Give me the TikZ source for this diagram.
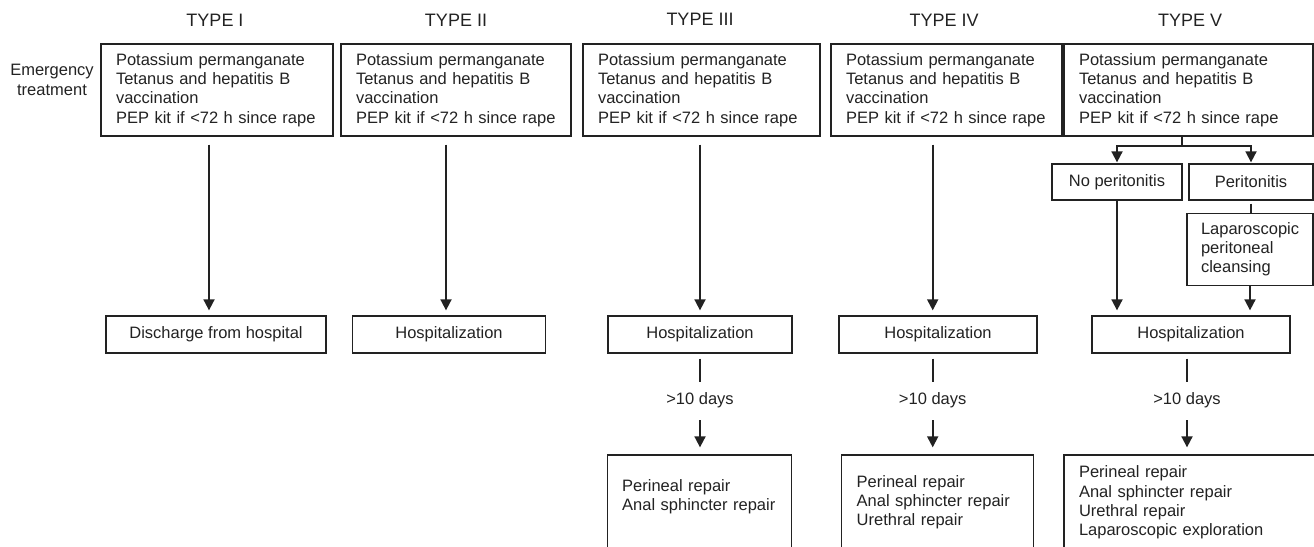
\documentclass[tikz,border=0pt]{standalone}
\usepackage{fontspec}
\setmainfont{Liberation Sans}
\usetikzlibrary{arrows.meta}
\definecolor{ink}{HTML}{222222}
\begin{document}
\begin{tikzpicture}[x=1pt,y=-1pt,
  every node/.style={text=ink, font=\fontsize{16.5}{19.2}\selectfont},
  box/.style={draw=ink, line width=1.3pt, inner sep=0pt},
  lbox/.style={box, align=left, inner xsep=15pt, text width=#1},
  cbox/.style={box, align=center, minimum width=#1},
  title/.style={font=\fontsize{18}{21}\selectfont},
  arr/.style={draw=ink, line width=1.8pt, -{Triangle[length=11pt,width=11pt]}},
  ln/.style={draw=ink, line width=1.8pt},
  days/.style={minimum height=36pt, inner sep=0pt},
]
\useasboundingbox (0,0) rectangle (1314,546);
\clip (0,0) rectangle (1314,546);

% titles
\node[title] (ty1) at (215,20) {TYPE I};
\node[title] (ty2) at (456,20) {TYPE II};
\node[title] (ty3) at (700,19) {TYPE III};
\node[title] (ty4) at (944,20) {TYPE IV};
\node[title] (ty5) at (1190,20) {TYPE V};

\node[align=center] (em) at (52,80) {Emergency\\treatment};

% emergency treatment boxes
\node[lbox=202pt, minimum height=92pt] (t1) at (217,90) {Potassium permanganate\\Tetanus and hepatitis B\\vaccination\\PEP kit if <72 h since rape};
\node[lbox=200pt, minimum height=92pt] (t2) at (456,90) {Potassium permanganate\\Tetanus and hepatitis B\\vaccination\\PEP kit if <72 h since rape};
\node[lbox=207pt, minimum height=92pt] (t3) at (701.5,90) {Potassium permanganate\\Tetanus and hepatitis B\\vaccination\\PEP kit if <72 h since rape};
\node[lbox=201pt, minimum height=92pt] (t4) at (946.5,90) {Potassium permanganate\\Tetanus and hepatitis B\\vaccination\\PEP kit if <72 h since rape};
\node[lbox=219pt, minimum height=92pt] (t5) at (1188.5,90) {Potassium permanganate\\Tetanus and hepatitis B\\vaccination\\PEP kit if <72 h since rape};

% hospital row
\node[cbox=220pt, minimum height=37pt] (h1) at (216,334.5) {Discharge from hospital};
\node[cbox=193pt, minimum height=37pt] (h2) at (449,334.5) {Hospitalization};
\node[cbox=184pt, minimum height=37pt] (h3) at (700,334.5) {Hospitalization};
\node[cbox=198pt, minimum height=37pt] (h4) at (938,334.5) {Hospitalization};
\node[cbox=198pt, minimum height=37pt] (h5) at (1191,334.5) {Hospitalization};

% type V branch
\node[cbox=130pt, minimum height=36pt] (np) at (1117,182) {No peritonitis};
\node[cbox=124pt, minimum height=36pt] (pe) at (1251,182) {Peritonitis};
\node[lbox=98pt, inner xsep=14pt, minimum height=72pt] (lap) at (1250,249.5) {Laparoscopic\\peritoneal\\cleansing};

% days labels
\node[days] (d3) at (700,400) {>10 days};
\node[days] (d4) at (932.7,400) {>10 days};
\node[days] (d5) at (1187,400) {>10 days};

% bottom boxes
\node[lbox=155pt, inner xsep=14.5pt, minimum height=95pt] (b3) at (699.7,502.5) {\raisebox{5pt}[\height][\depth]{\begin{tabular}{@{}l@{}}Perineal repair\\Anal sphincter repair\end{tabular}}};
\node[lbox=161.6pt, minimum height=95pt] (b4) at (937.5,502.5) {Perineal repair\\Anal sphincter repair\\Urethral repair};
\node[lbox=240pt, minimum height=95pt] (b5) at (1199,502.5) {Perineal repair\\Anal sphincter repair\\Urethral repair\\Laparoscopic exploration};

% arrow x positions
\coordinate (ax1) at (209,0);
\coordinate (ax2) at (446,0);
\coordinate (ax3) at (700,0);
\coordinate (ax4) at (932.7,0);
\coordinate (vs) at (1181.7,146);

\draw[arr, shorten <=8pt, shorten >=5pt] (t1.south -| ax1) -- (h1.north -| ax1);
\draw[arr, shorten <=8pt, shorten >=5pt] (t2.south -| ax2) -- (h2.north -| ax2);
\draw[arr, shorten <=8pt, shorten >=5pt] (t3.south -| ax3) -- (h3.north -| ax3);
\draw[arr, shorten <=8pt, shorten >=5pt] (t4.south -| ax4) -- (h4.north -| ax4);

% type V connectors
\draw[ln] (t5.south -| vs) -- (vs);
\draw[arr, shorten >=1pt] (vs) -| (np.north);
\draw[arr, shorten >=1pt] (vs) -| (pe.north);
\draw[ln, line width=1.5pt, shorten <=3pt] (pe.south) -- (pe.south |- lap.north);
\draw[arr, shorten >=5pt] (np.south) -- (np.south |- h5.north);
\draw[arr, shorten >=5pt] (lap.south) -- (lap.south |- h5.north);

% >10 days
\draw[ln, shorten <=5pt] (h3.south -| d3) -- (d3.north);
\draw[ln, shorten <=5pt] (h4.south -| d4) -- (d4.north);
\draw[ln, shorten <=5pt] (h5.south -| d5) -- (d5.north);
\draw[arr, shorten <=2pt, shorten >=7pt] (d3.south) -- (d3.south |- b3.north);
\draw[arr, shorten <=2pt, shorten >=7pt] (d4.south) -- (d4.south |- b4.north);
\draw[arr, shorten <=2pt, shorten >=7pt] (d5.south) -- (d5.south |- b5.north);
\end{tikzpicture}
\end{document}
